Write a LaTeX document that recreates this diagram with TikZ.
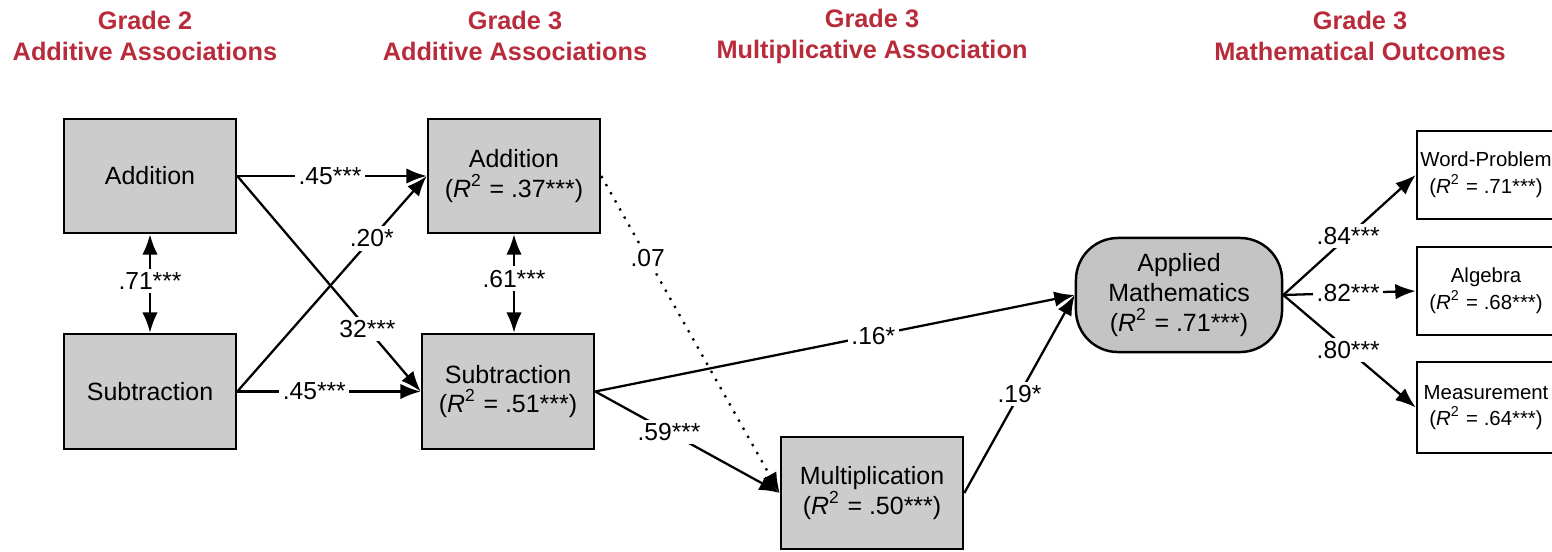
\documentclass[tikz,border=0pt]{standalone}
\usepackage{fontspec}
\setmainfont{Liberation Sans}
\usetikzlibrary{arrows.meta}

\definecolor{gradered}{RGB}{184,43,59}
\definecolor{boxgray}{RGB}{204,204,204}
\definecolor{amgray}{RGB}{196,196,196}

\tikzstyle{var} = [draw, line width=0.7pt, fill=boxgray, align=center, inner sep=0pt, font=\fontsize{7.1}{8.3}\selectfont]
\tikzstyle{outcome} = [draw, line width=0.7pt, fill=white, align=center, inner sep=0pt, font=\fontsize{5.8}{7.6}\selectfont]
\tikzstyle{line} = [draw, line width=0.65pt, -{Latex[length=5.8pt,width=4.4pt]}]
\tikzstyle{biline} = [draw, line width=0.65pt, {Latex[length=5.8pt,width=4.4pt]}-{Latex[length=5.8pt,width=4.4pt]}]
\tikzstyle{coef} = [fill=white, inner sep=1pt, font=\fontsize{7}{8}\selectfont]
\tikzstyle{grade} = [text=gradered, align=center, font=\fontsize{7.2}{8.8}\selectfont\bfseries]

\newcommand{\rsq}[1]{(\textit{R}\textsuperscript{2} = #1)}

\begin{document}
\begin{tikzpicture}[x=0.01cm, y=-0.01cm]
	\useasboundingbox (0,0) rectangle (1552,551);
	
	% column headings
	\node[grade] (head2) at (145,36) {Grade 2\\Additive Associations};
	\node[grade] (head3a) at (515,36) {Grade 3\\Additive Associations};
	\node[grade] (head3m) at (872,36) {Grade 3\\Multiplicative Association};
	\node[grade] (head3o) at (1360,36) {Grade 3\\Mathematical Outcomes};
	
	% grade 2
	\node[var, minimum width=1.72cm, minimum height=1.14cm] (addtwo) at (150,176) {Addition};
	\node[var, minimum width=1.72cm, minimum height=1.15cm] (subtwo) at (150,391.5) {Subtraction};
	
	% grade 3 additive
	\node[var, minimum width=1.72cm, minimum height=1.14cm] (addthree) at (514,176) {Addition\\\rsq{.37***}};
	\node[var, minimum width=1.72cm, minimum height=1.15cm] (subthree) at (508,391.5) {Subtraction\\\rsq{.51***}};
	
	% grade 3 multiplicative
	\node[var, minimum width=1.82cm, minimum height=1.12cm] (mult) at (872,493) {Multiplication\\\rsq{.50***}};
	
	% applied mathematics
	\node[var, fill=amgray, rounded corners=0.42cm, minimum width=2.06cm, minimum height=1.14cm, font=\fontsize{7.1}{8.5}\selectfont] (applied) at (1179,295) {Applied\\Mathematics\\\rsq{.71***}};
	
	% outcomes
	\node[outcome, minimum width=1.38cm, minimum height=0.88cm] (wordprob) at (1486,175) {Word-Problem\\\rsq{.71***}};
	\node[outcome, minimum width=1.38cm, minimum height=0.88cm] (algebra) at (1486,291) {Algebra\\\rsq{.68***}};
	\node[outcome, minimum width=1.38cm, minimum height=0.91cm] (measure) at (1486,407.5) {Measurement\\\rsq{.64***}};
	
	% paths
	\draw[biline] (addtwo) -- node[coef, pos=0.47] {.71***} (subtwo);
	\draw[biline] (addthree.south) -- node[coef, pos=0.45] {.61***} (addthree.south |- subthree.north);
	
	\draw[line] (addtwo.east) -- node[coef, pos=0.49] {.45***} (addthree.west);
	\draw[line] (addtwo.east) -- node[coef, pos=0.71] {32***} (subthree.west);
	\draw[line] (subtwo.east) -- node[coef, pos=0.71] {.20*} (addthree.west);
	\draw[line] (subtwo.east) -- node[coef, pos=0.42] {.45***} (subthree.west);
	
	\draw[line, dotted] (addthree.east) -- node[coef, pos=0.26] {.07} (mult.west);
	\draw[line] (subthree.east) -- node[coef, pos=0.40] {.59***} (mult.west);
	\draw[line] (subthree.east) -- node[coef, pos=0.58] {.16*} (applied.west);
	\draw[line] (mult.east) -- node[coef, pos=0.50] {.19*} (applied.west);
	
	\draw[line] (applied.east) -- node[coef, pos=0.49] {.84***} (wordprob.west);
	\draw[line] (applied.east) -- node[coef, pos=0.49] {.82***} (algebra.west);
	\draw[line] (applied.east) -- node[coef, pos=0.49] {.80***} (measure.west);
	
\end{tikzpicture}
\end{document}
